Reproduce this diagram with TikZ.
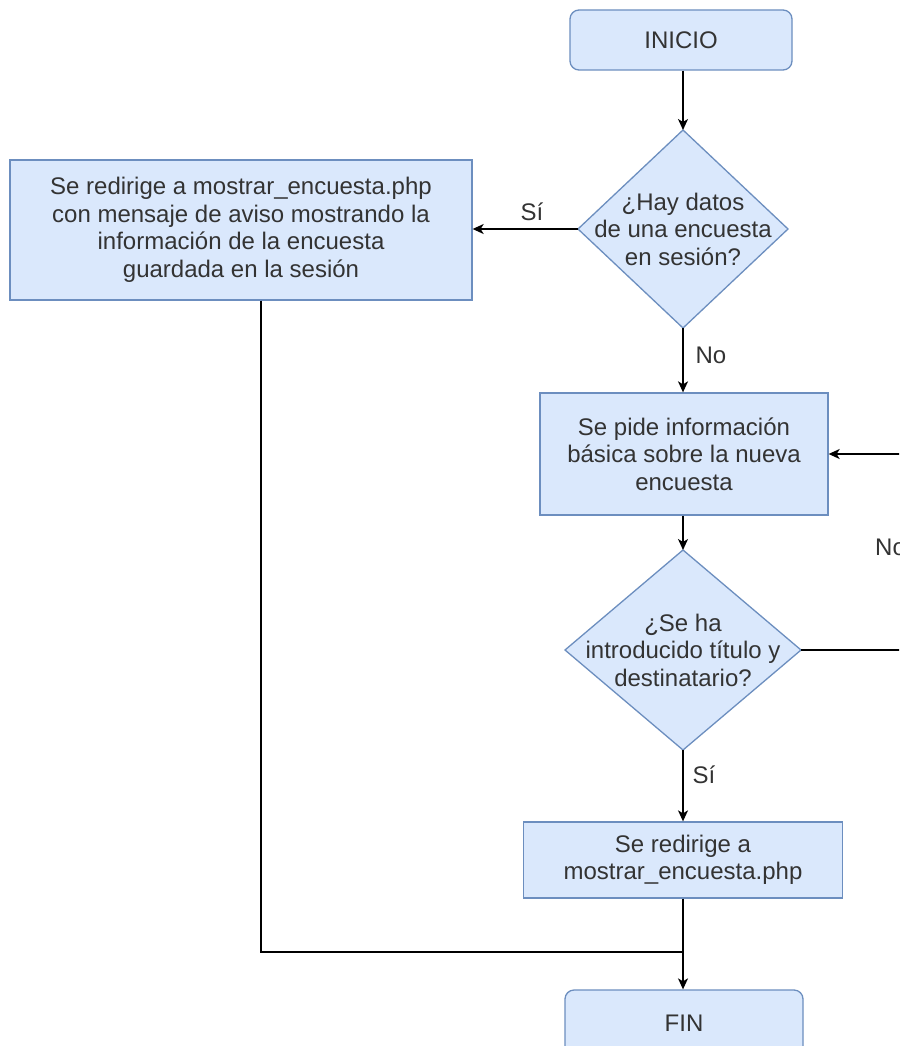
\documentclass[tikz,border=0pt]{standalone}
\usepackage{fontspec}
\setmainfont{Liberation Sans}
\usetikzlibrary{arrows.meta}
\definecolor{boxfill}{HTML}{DAE8FC}
\definecolor{boxline}{HTML}{6C8EBF}
\definecolor{txt}{HTML}{333333}
\begin{document}
\begin{tikzpicture}[x=1pt,y=-1pt,
  every node/.style={font=\fontsize{24}{27.5}\selectfont, text=txt},
  procbox/.style={draw=boxline, fill=boxfill, line width=1.3pt, align=center, inner sep=0pt},
  termbox/.style={procbox, rounded corners=9pt},
  decshape/.style={draw=boxline, fill=boxfill, line width=1.3pt},
  conn/.style={line width=1.4pt, black},
  arr/.style={conn, -{Stealth[length=11pt,width=10pt,inset=3pt]}},
  lbl/.style={inner sep=0pt},
  plain/.style={align=center, inner sep=0pt}
]
\useasboundingbox (0,0) rectangle (899,1046);
\clip (0,0) rectangle (899,1046);
\fill[white] (0,0) rectangle (899,1046);

\node[termbox, minimum width=222pt, minimum height=60pt] (inicio) at (681,40) {INICIO};

% diamond 1
\coordinate (d1n) at (683,130);
\coordinate (d1s) at (683,328);
\coordinate (d1w) at (578,229);
\coordinate (d1e) at (788,229);
\draw[decshape] (d1n) -- (d1e) -- (d1s) -- (d1w) -- cycle;
\node[plain] (d1) at (683,229) {¿Hay datos\\de una encuesta\\en sesión?};

\node[procbox, minimum width=462pt, minimum height=140pt] (left) at (241,230) {Se redirige a mostrar\_encuesta.php\\con mensaje de aviso mostrando la\\información de la encuesta\\guardada en la sesión};
\node[procbox, minimum width=288pt, minimum height=122pt] (pide) at (684,454) {Se pide información\\básica sobre la nueva\\encuesta};

% diamond 2
\coordinate (d2n) at (683,550);
\coordinate (d2s) at (683,750);
\coordinate (d2w) at (565,650);
\coordinate (d2e) at (801,650);
\draw[decshape] (d2n) -- (d2e) -- (d2s) -- (d2w) -- cycle;
\node[plain] (d2) at (683,650) {¿Se ha\\introducido título y\\destinatario?};

\node[procbox, minimum width=319pt, minimum height=76pt] (redir) at (683,860) {Se redirige a\\mostrar\_encuesta.php};
\node[termbox, minimum width=238pt, minimum height=80pt] (fin) at (684,1030) {};
\node (fintext) at (684,1023) {FIN};

\coordinate (loopA) at (950,650);
\coordinate (loopB) at (950,454);
\coordinate (join) at (683,952);
\coordinate (leftdown) at (261,952);

\draw[arr] (inicio.south -| d1n) -- (d1n);
\draw[arr] (d1w) -- (left.east |- d1w);
\node[lbl] (si1) at (532,212) {Sí};
\draw[arr] (d1s) -- (d1s |- pide.north);
\node[lbl] (no1) at (711,355) {No};
\draw[arr] (pide.south -| d2n) -- (d2n);
\draw[conn] (d2e) -- (loopA) -- (loopB);
\draw[arr] (loopB) -- (pide.east |- loopB);
\node[lbl, anchor=west] (no2) at (875,547) {No};
\draw[arr] (d2s) -- (d2s |- redir.north);
\node[lbl] (si2) at (704,775) {Sí};
\draw[conn] (left.south -| leftdown) -- (leftdown) -- (join);
\draw[arr] (redir.south -| join) -- (join |- fin.north);
\end{tikzpicture}
\end{document}
